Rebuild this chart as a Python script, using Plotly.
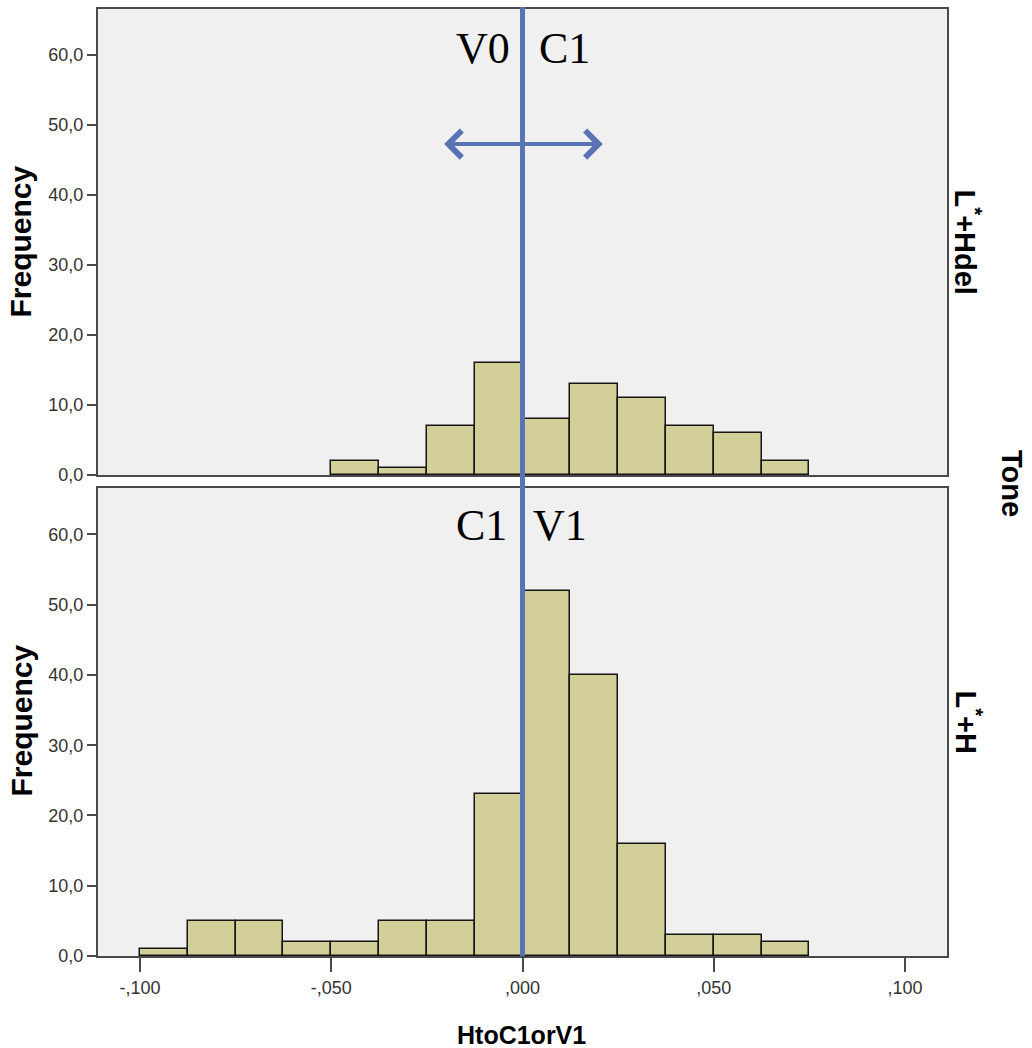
import plotly.graph_objects as go
from plotly.subplots import make_subplots

# ---- data ----
bin_left = [-0.1, -0.0875, -0.075, -0.0625, -0.05, -0.0375, -0.025,
            -0.0125, 0.0, 0.0125, 0.025, 0.0375, 0.05, 0.0625]
bin_width = 0.0125
counts_LHdel = [0, 0, 0, 0, 2, 1, 7, 16, 8, 13, 11, 7, 6, 2]
counts_LH = [1, 5, 5, 2, 2, 5, 5, 23, 52, 40, 16, 3, 3, 2]
panel_labels = ["L<sup>*</sup>+Hdel", "L<sup>*</sup>+H"]
y_tickvals = [0, 10, 20, 30, 40, 50, 60]
y_ticktext = ["0,0", "10,0", "20,0", "30,0", "40,0", "50,0", "60,0"]
x_tickvals = [-0.1, -0.05, 0.0, 0.05, 0.1]
x_ticktext = ["-,100", "-,050", ",000", ",050", ",100"]

BAR = "#d3cf98"
BLUE = "#5a73b5"
FRAME = "#4a4a4a"
BG = "#f0f0f0"

fig = make_subplots(rows=2, cols=1, shared_xaxes=False, vertical_spacing=0.0137)

for row, counts in [(1, counts_LHdel), (2, counts_LH)]:
    xs = [b for b, c in zip(bin_left, counts) if c > 0]
    ys = [c for c in counts if c > 0]
    fig.add_trace(go.Bar(x=xs, y=ys, width=bin_width, offset=0,
                         marker=dict(color=BAR, line=dict(color="#151515", width=1.5)),
                         showlegend=False, hoverinfo="skip"), row=row, col=1)

W, H = 1032, 1048
ml, mr, mt, mb = 98, 85, 7, 92
pw, ph = W - ml - mr, H - mt - mb

fig.update_layout(width=W, height=H, margin=dict(l=ml, r=mr, t=mt, b=mb),
                  paper_bgcolor="white", plot_bgcolor=BG, bargap=0,
                  font=dict(family="Liberation Sans, Arial", color="#222"))

top_dom = [(956 - 474) / ph, 1.0]
bot_dom = [0.0, (956 - 487) / ph]

axis_common = dict(showline=True, mirror=True, linecolor=FRAME, linewidth=2,
                   showgrid=False, zeroline=False)
fig.update_xaxes(range=[-0.111, 0.111], **axis_common)
fig.update_xaxes(row=1, col=1, showticklabels=False, ticks="")
fig.update_xaxes(row=2, col=1, tickvals=x_tickvals, ticktext=x_ticktext,
                 ticks="outside", ticklen=14, tickwidth=2, tickcolor=FRAME,
                 tickfont=dict(size=18, color="#333"))
fig.update_yaxes(range=[0, 66.6], tickvals=y_tickvals, ticktext=y_ticktext,
                 ticks="outside", ticklen=9, tickwidth=2, tickcolor=FRAME,
                 tickfont=dict(size=18, color="#333"), **axis_common)
fig.update_layout(yaxis=dict(domain=top_dom), yaxis2=dict(domain=bot_dom))

# vertical blue line at 0
fig.add_shape(type="line", xref="x2", yref="paper", x0=0, x1=0, y0=0, y1=1.002,
              line=dict(color=BLUE, width=5), layer="above")

# double arrow in top panel
for tip in (-0.0205, 0.021):
    fig.add_annotation(x=tip, y=47.3, xref="x", yref="y", ax=0, ay=47.3,
                       axref="x", ayref="y", text="", showarrow=True,
                       arrowhead=4, arrowsize=1.3, arrowwidth=4,
                       arrowcolor=BLUE, standoff=0)

serif = dict(family="Liberation Serif, Times New Roman", size=44, color="black")
for txt, x, y, xr, yr in [("V0", -0.0102, 60.9, "x", "y"), ("C1", 0.011, 60.9, "x", "y"),
                          ("C1", -0.0107, 61.3, "x2", "y2"), ("V1", 0.0097, 61.3, "x2", "y2")]:
    fig.add_annotation(x=x, y=y, xref=xr, yref=yr, text=txt, showarrow=False,
                       font=serif, xanchor="center", yanchor="middle")

def px_x(p):
    return (p - ml) / pw

def px_y(p):
    return (956 - p) / ph

bold = dict(family="Liberation Sans, Arial", color="black")
cen = dict(xref="paper", yref="paper", showarrow=False, xanchor="center", yanchor="middle")
for yc in (240, 720):
    fig.add_annotation(x=px_x(21), y=px_y(yc), text="<b>Frequency</b>", textangle=-90,
                       font=dict(size=30, **bold), **cen)
for lab, yc in zip(panel_labels, (240, 722)):
    fig.add_annotation(x=px_x(968), y=px_y(yc), text="<b>" + lab + "</b>", textangle=90,
                       font=dict(size=29, **bold), **cen)
fig.add_annotation(x=px_x(1012), y=px_y(482), text="<b>Tone</b>", textangle=90,
                   font=dict(size=29, **bold), **cen)
fig.add_annotation(x=px_x(521), y=px_y(1035), text="<b>HtoC1orV1</b>",
                   font=dict(size=25, **bold), **cen)

fig.write_html("out.html")
